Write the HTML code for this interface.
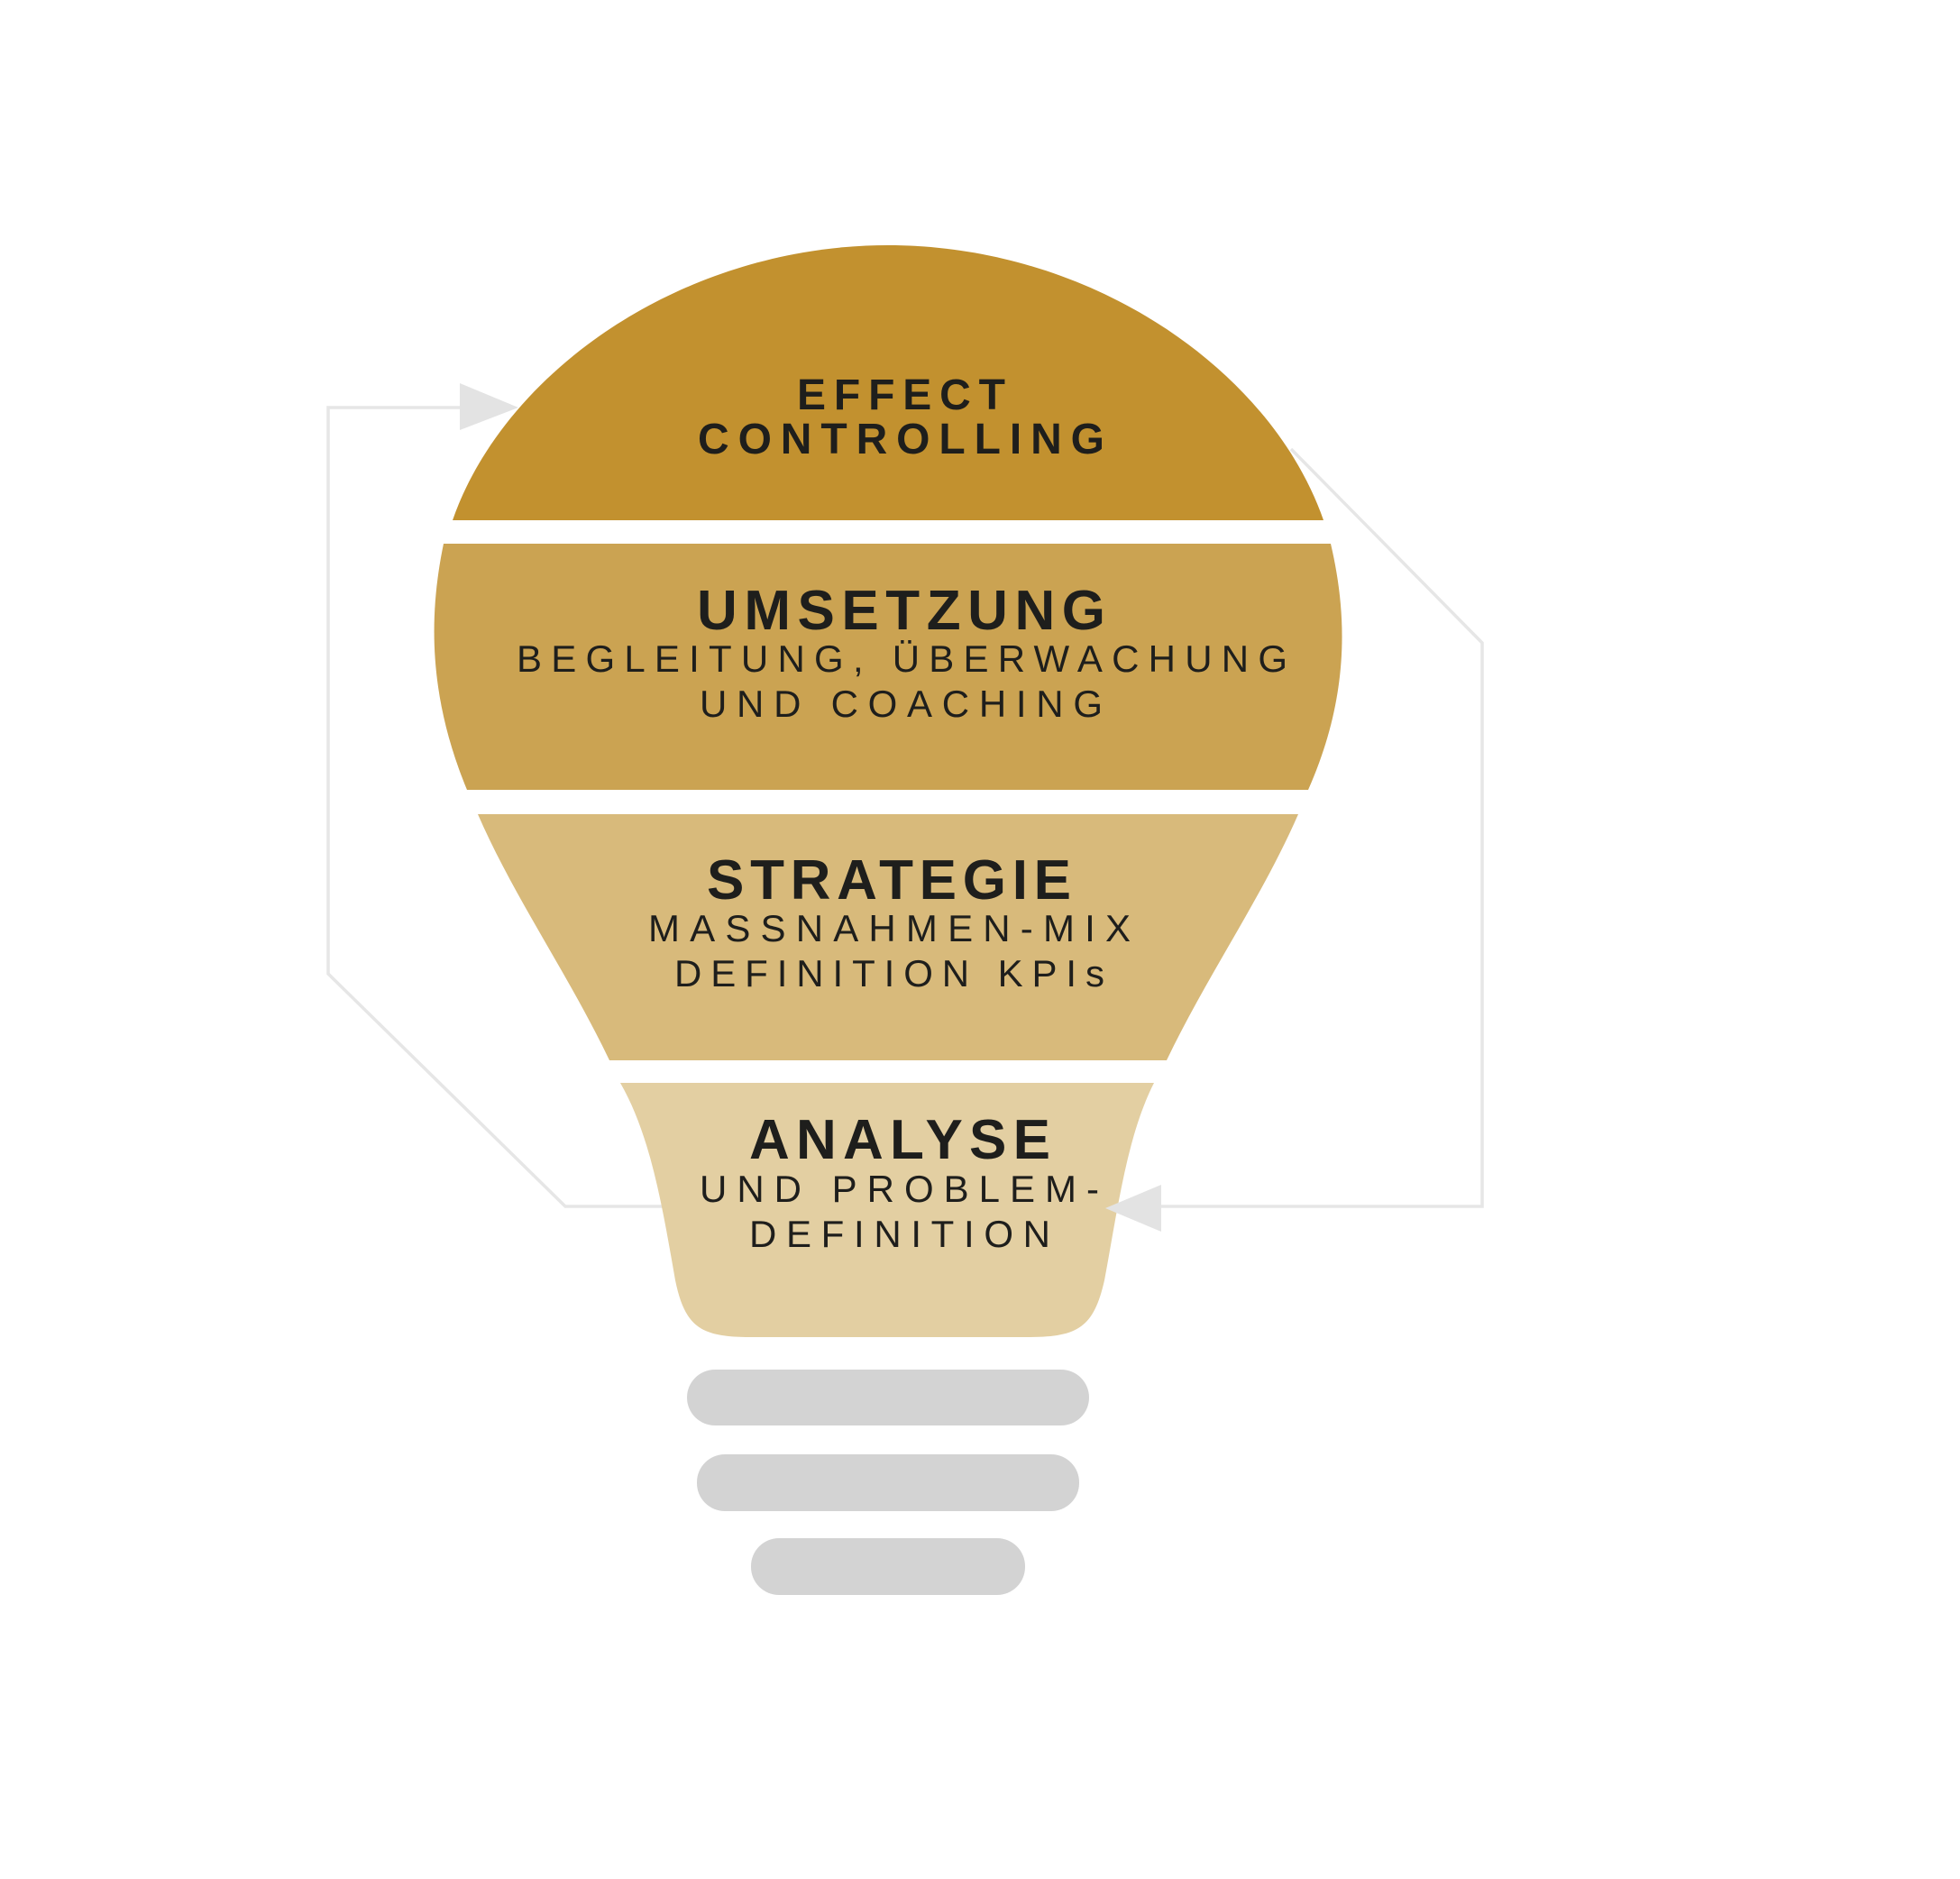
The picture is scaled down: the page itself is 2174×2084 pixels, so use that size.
<!DOCTYPE html>
<html><head><meta charset="utf-8"><style>html,body{margin:0;padding:0;background:#fff}svg{display:block}</style></head>
<body>
<svg width="2174" height="2084" viewBox="0 0 2174 2084" xmlns="http://www.w3.org/2000/svg">
<g fill="none" stroke="#e6e6e6" stroke-width="3.5">
<polyline points="736,1338 627,1338 364,1080 364,452 512,452"/>
<polyline points="1432,498 1644,713 1644,1338 1286,1338"/>
</g>
<path d="M502,577 C560,410 760,272 985,272 C1210,272 1410,410 1468,577 Z" fill="#c2912f"/>
<path d="M492,603 L1476,603 C1494,680 1498,770 1451,876 L518,876 C474,770 476,680 492,603 Z" fill="#cba352"/>
<path d="M530,903 L1440,903 C1400,995 1340,1080 1294,1176 L676,1176 C630,1080 570,995 530,903 Z" fill="#d8ba7b"/>
<path d="M688,1201 L1280,1201 C1250,1260 1240,1340 1225,1420 C1213,1473 1195,1483 1140,1483 L834,1483 C778,1483 760,1473 749,1420 C735,1340 722,1260 688,1201 Z" fill="#e3cfa2"/>
<rect x="762" y="1519" width="446" height="62" rx="31" fill="#d3d3d3"/>
<rect x="773" y="1613" width="424" height="63" rx="31" fill="#d3d3d3"/>
<rect x="833" y="1706" width="304" height="63" rx="31" fill="#d3d3d3"/>
<polygon points="510,425 510,477 575,452" fill="#e3e3e3"/>
<polygon points="1288,1314 1288,1366 1226,1340" fill="#e3e3e3"/>
<g fill="#1e1e1c" font-family="Liberation Sans, sans-serif" text-anchor="start">
<text x="884" y="454" font-size="48" font-weight="bold" textLength="231" lengthAdjust="spacing">EFFECT</text>
<text x="774" y="503" font-size="48" font-weight="bold" textLength="451" lengthAdjust="spacing">CONTROLLING</text>
<text x="773" y="698" font-size="62" font-weight="bold" textLength="453" lengthAdjust="spacing">UMSETZUNG</text>
<text x="573" y="745" font-size="42" textLength="855" lengthAdjust="spacing">BEGLEITUNG, ÜBERWACHUNG</text>
<text x="776" y="795" font-size="42" textLength="447" lengthAdjust="spacing">UND COACHING</text>
<text x="784" y="997" font-size="62" font-weight="bold" textLength="404" lengthAdjust="spacing">STRATEGIE</text>
<text x="719" y="1044" font-size="42" textLength="535" lengthAdjust="spacing">MASSNAHMEN-MIX</text>
<text x="748" y="1094" font-size="42" textLength="477" lengthAdjust="spacing">DEFINITION KPIs</text>
<text x="831" y="1285" font-size="62" font-weight="bold" textLength="334" lengthAdjust="spacing">ANALYSE</text>
<text x="776" y="1333" font-size="42" textLength="443" lengthAdjust="spacing">UND PROBLEM-</text>
<text x="831" y="1383" font-size="42" textLength="334" lengthAdjust="spacing">DEFINITION</text>
</g>
</svg>
</body></html>
